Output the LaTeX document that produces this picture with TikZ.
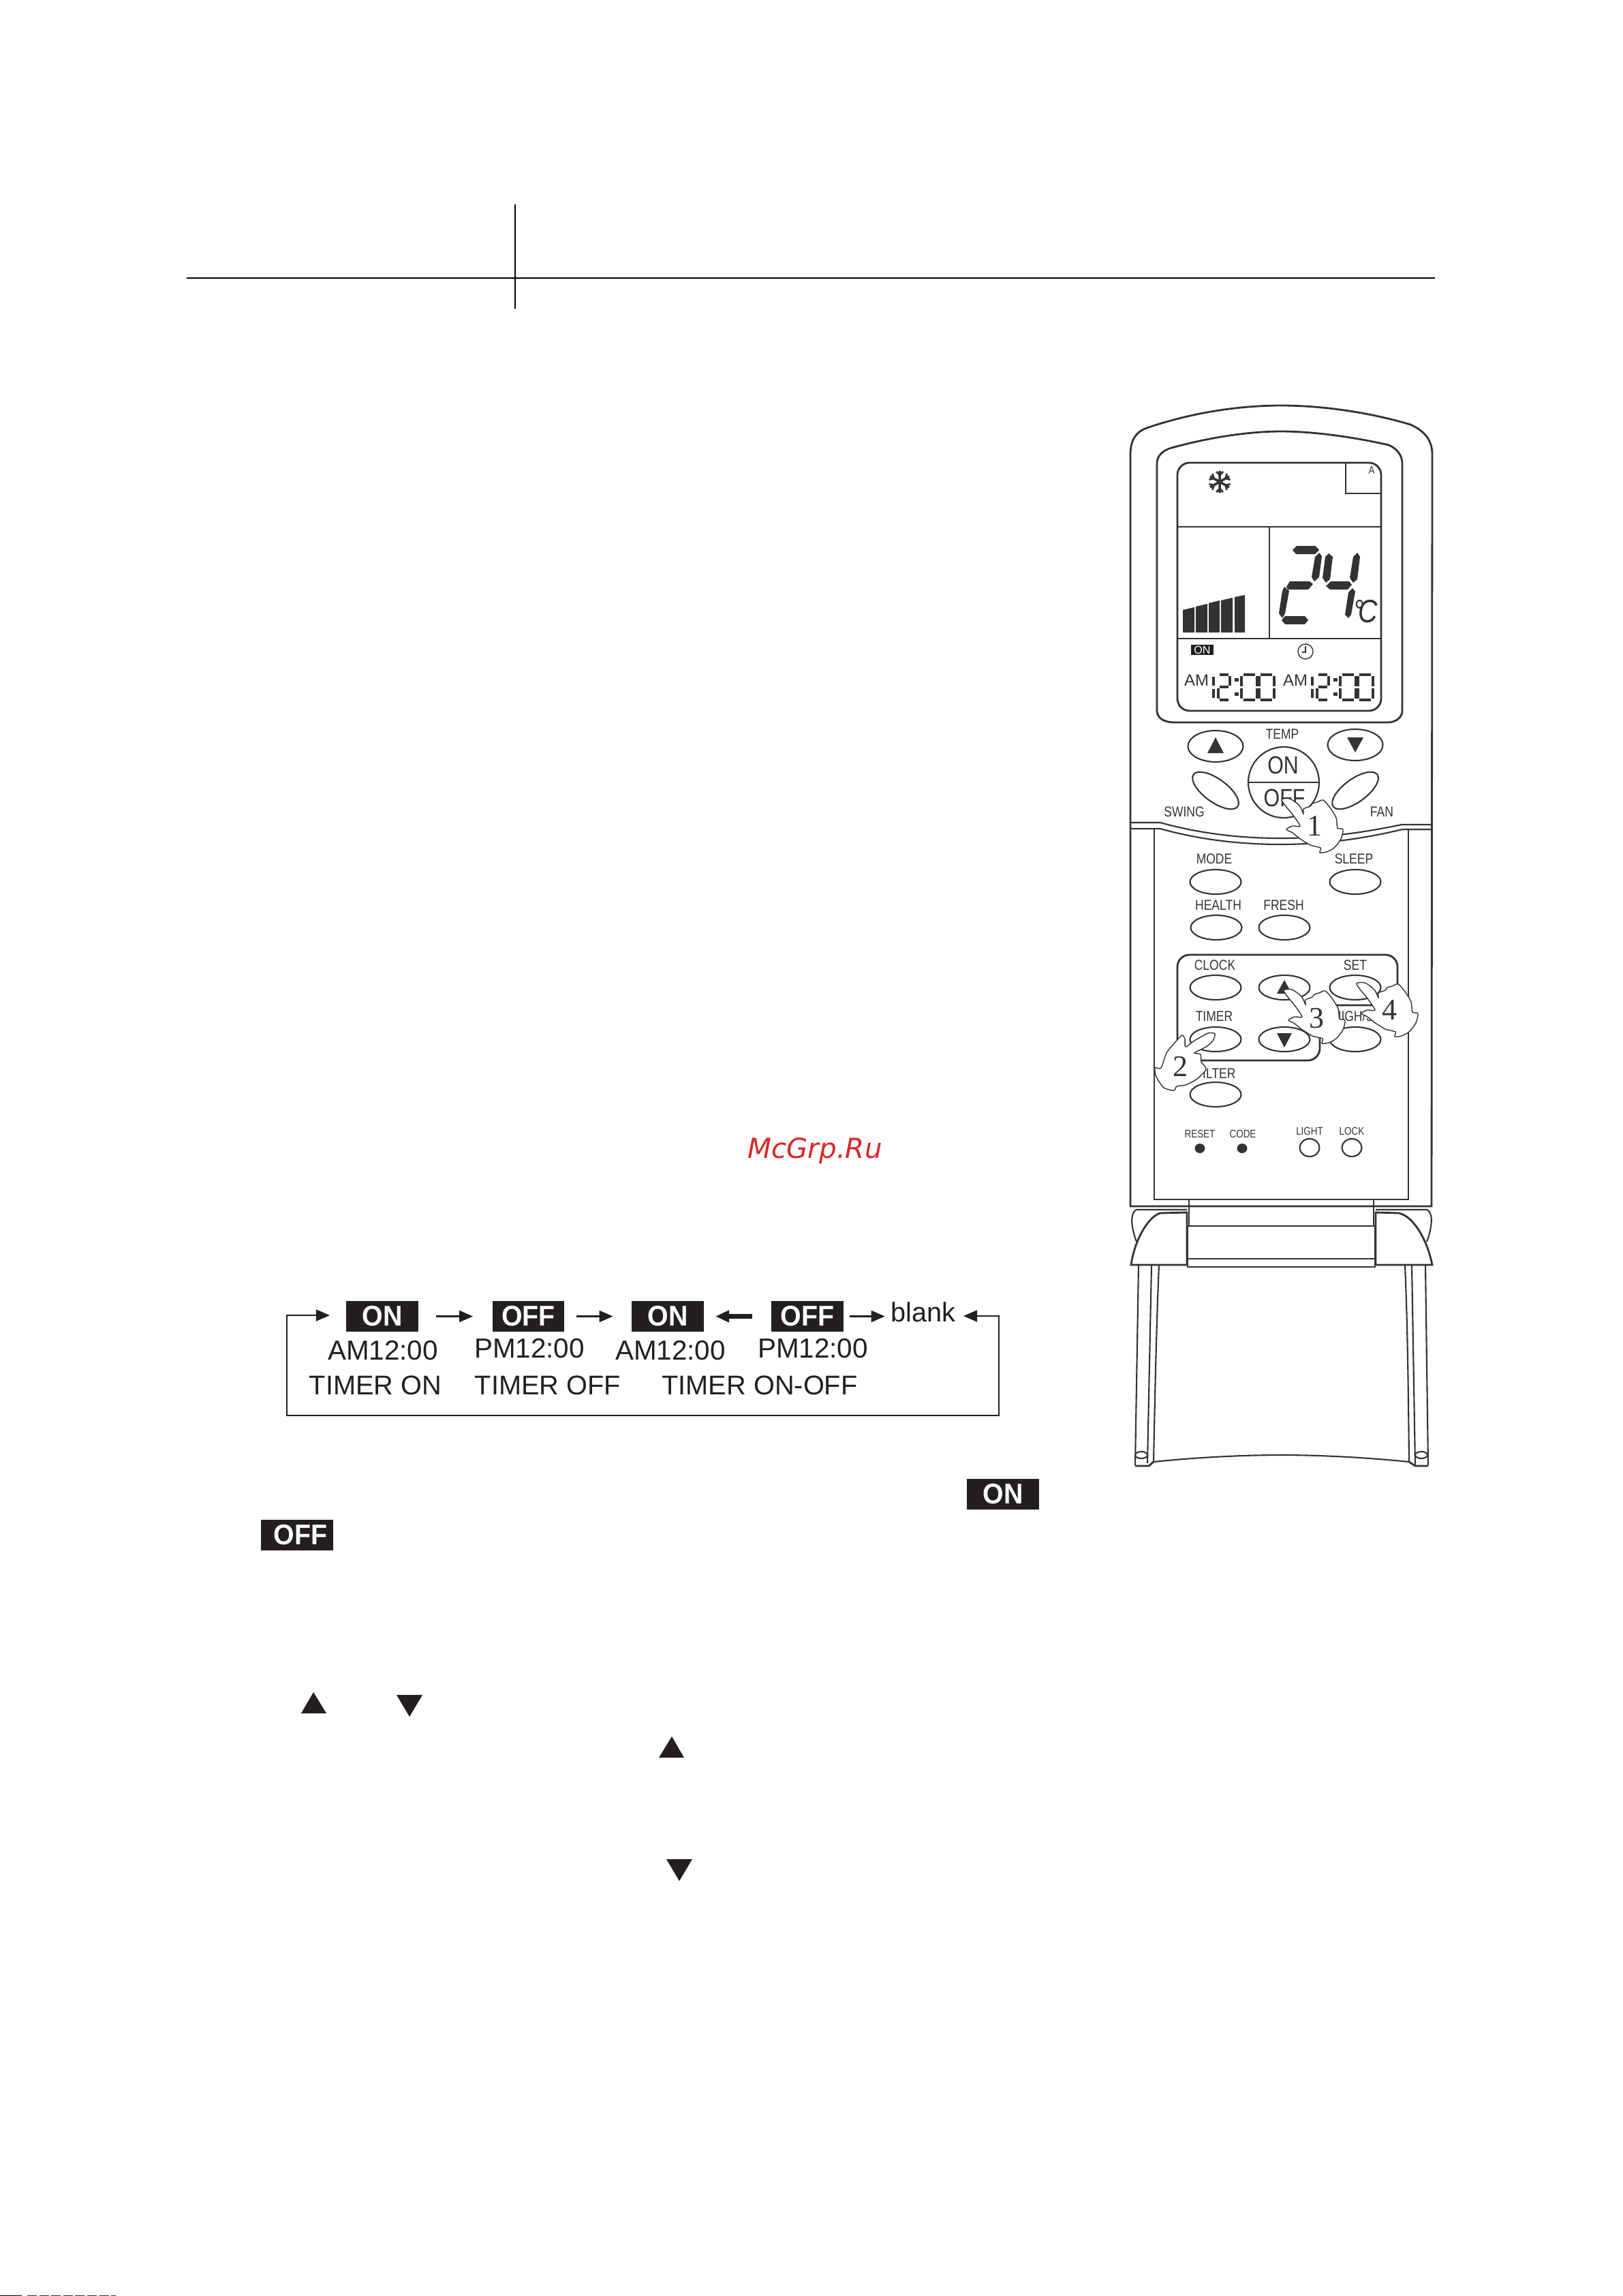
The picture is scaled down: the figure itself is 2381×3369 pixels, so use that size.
\documentclass[tikz,border=0pt]{standalone}
\usepackage{fontspec}
\setmainfont{Liberation Sans}
\newfontfamily\condfont[FakeStretch=0.83]{Liberation Sans}
\newfontfamily\boxfont[FakeStretch=0.94]{Liberation Sans}
\newfontfamily\handfont{Liberation Serif}
\newfontfamily\markfont{DejaVu Sans}
\usetikzlibrary{arrows.meta}
\definecolor{remotegray}{HTML}{333333}
\definecolor{boxblack}{HTML}{231F20}
\definecolor{markred}{HTML}{DC2727}
\tikzset{
    remote/.style={draw=remotegray, line width=0.6pt},
    panel/.style={draw=remotegray, line width=0.8pt},
    keybutton/.style={x radius=37.5, y radius=18},
    solidmark/.style={fill=boxblack},
    lcdmark/.style={fill=remotegray},
    clockseg/.style={draw=remotegray, line width=1.3pt},
    handshape/.style={draw=remotegray, fill=white, line width=0.4pt},
    keylabel/.style={text=remotegray, inner sep=0pt, font=\condfont\fontsize{6}{7}\selectfont},
    tinylabel/.style={text=remotegray, inner sep=0pt, font=\condfont\fontsize{4.6}{5}\selectfont},
    handnum/.style={text=remotegray, inner sep=0pt, font=\handfont\fontsize{12.5}{13}\selectfont},
    flowlabel/.style={text=boxblack, inner sep=0pt, font=\fontsize{11.3}{12}\selectfont},
    timelabel/.style={text=boxblack, inner sep=0pt, font=\fontsize{11.5}{12}\selectfont},
    flowbox/.style={fill=boxblack, text=white, inner sep=0pt, minimum width=29.9pt, minimum height=12.8pt, font=\boxfont\bfseries\fontsize{11.9}{12}\selectfont},
    flowarrow/.style={draw=boxblack, line width=0.6pt, -{Triangle[length=5.7pt,width=4.8pt]}},
}
\newcommand{\handoutline}{plot [smooth cycle, tension=0.45] coordinates {(1881,1173) (1893,1172) (1907,1182) (1913,1194) (1913,1187) (1923,1183) (1926,1179) (1933,1177) (1942,1174) (1952,1185) (1961,1200) (1963,1215) (1971,1217) (1968,1231) (1958,1244) (1947,1250) (1937,1251) (1938,1244) (1923,1240) (1907,1230) (1897,1222) (1888,1217) (1897,1212) (1908,1212) (1897,1195) (1887,1183)}}
\newcommand{\clockdigits}{
    \draw[clockseg] (1781,993) -- (1781,1006) (1781,1011) -- (1781,1024);
    \draw[clockseg] (1790,990) -- (1803,990) (1805,992) -- (1805,1006) (1790,1008) -- (1803,1008) (1788,1010) -- (1788,1025) (1790,1027) -- (1803,1027);
    \draw[clockseg, line width=1.5pt] (1815,995) -- (1815,1000) (1815,1016) -- (1815,1021);
    \draw[clockseg] (1822,992) -- (1822,1007) (1822,1010) -- (1822,1025) (1825,990) -- (1842,990) (1825,1027) -- (1842,1027) (1845,992) -- (1845,1007) (1845,1010) -- (1845,1025);
    \draw[clockseg] (1847.5,992) -- (1847.5,1007) (1847.5,1010) -- (1847.5,1025) (1850,990) -- (1867,990) (1850,1027) -- (1867,1027) (1870,992) -- (1870,1007) (1870,1010) -- (1870,1025);
}
\begin{document}
\begin{tikzpicture}[x=0.01cm, y=-0.01cm]
    \useasboundingbox (0,0) rectangle (2381,3369);

    % page head
    \draw[line width=0.6pt] (274,408) -- (2106,408);
    \draw[line width=0.6pt] (756,300) -- (756,453);
    \node[anchor=base, text=markred, font=\markfont\itshape\fontsize{11.5}{12}\selectfont] (mark) at (1196,1699) {McGrp.Ru};

    % legs of the cover
    \draw[remote] (1671,1856) -- (1666,2150);
    \draw[remote] (1690,1856) -- (1684,2147);
    \draw[remote] (1701,1856) .. controls (1697,1950) and (1695,2050) .. (1693,2145);
    \draw[remote] (2092,1856) -- (2096,2150);
    \draw[remote] (2072,1856) -- (2077,2150);
    \draw[remote] (2062,1856) .. controls (2066,1950) and (2067,2050) .. (2068,2145);
    \draw[remote] (1693,2145) .. controls (1750,2139) and (1820,2135) .. (1880,2135) .. controls (1940,2135) and (2010,2139) .. (2068,2145);
    \draw[panel] (1666,2151) -- (1686,2151) -- (1693,2145);
    \draw[panel] (2096,2151) -- (2077,2151) -- (2068,2145);
    \draw[remote] (1675,2135) circle [x radius=9, y radius=5];
    \draw[remote] (2086,2135) circle [x radius=9, y radius=5];

    % body
    \draw[panel] (1659,1770) -- (1659,667) .. controls (1659,645) and (1668,633) .. (1683,628) .. controls (1750,605) and (1820,595) .. (1880,595) .. controls (1940,595) and (2010,605) .. (2070,623) .. controls (2090,632) and (2102,645) .. (2102,667) -- (2101,1770) -- cycle;
    \draw[panel] (1723,1060) .. controls (1708,1060) and (1698,1053) .. (1698,1043) -- (1698,680) .. controls (1698,668) and (1708,660) .. (1720,657) .. controls (1770,643) and (1830,633) .. (1880,633) .. controls (1930,633) and (1990,642) .. (2038,653) .. controls (2050,658) and (2058,668) .. (2058,680) -- (2058,1043) .. controls (2058,1053) and (2048,1060) .. (2037,1060) -- cycle;

    % display
    \draw[panel, rounded corners=5.1pt] (1728,679) rectangle (2027,1043);
    \draw[remote] (1975,679) -- (1975,724) -- (2027,724);
    \draw[remote] (1729,773) -- (2026,773);
    \draw[remote] (1863,773) -- (1863,937);
    \draw[remote] (1729,937) -- (2026,937);
    \node[tinylabel] (autolabel) at (2013,690) {A};
    \draw[draw=remotegray, line width=1pt] (1790,691) -- (1790,723) (1776,699) -- (1804,715) (1776,715) -- (1804,699);
    \draw[remotegray, line width=0.8pt] (1785,692) -- (1790,697) -- (1795,692) (1785,722) -- (1790,717) -- (1795,722);
    \draw[remotegray, line width=0.8pt] (1805.5,703.8) -- (1798.7,702) -- (1800.5,695.2) (1774.5,703.8) -- (1781.3,702) -- (1779.5,695.2);
    \draw[remotegray, line width=0.8pt] (1805.5,710.2) -- (1798.7,712) -- (1800.5,718.8) (1774.5,710.2) -- (1781.3,712) -- (1779.5,718.8);

    % fan bars
    \fill[lcdmark] (1736,895) -- (1753,891) -- (1753,928) -- (1736,928) -- cycle;
    \fill[lcdmark] (1755,890) -- (1772,886) -- (1772,928) -- (1755,928) -- cycle;
    \fill[lcdmark] (1774,885) -- (1790,881) -- (1790,928) -- (1774,928) -- cycle;
    \fill[lcdmark] (1792,881) -- (1809,877) -- (1809,928) -- (1792,928) -- cycle;
    \fill[lcdmark] (1812,876) -- (1827,873) -- (1827,928) -- (1812,928) -- cycle;

    % big digits
    \fill[lcdmark] (1897,807) -- (1903,801) -- (1930,801) -- (1936,807) -- (1930,813) -- (1902,813) -- cycle;
    \fill[lcdmark] (1936,811) -- (1940,816) -- (1936,847) -- (1929,853) -- (1925,847) -- (1930,817) -- cycle;
    \fill[lcdmark] (1888,861) -- (1893,853) -- (1922,853) -- (1927,857) -- (1920,865) -- (1890,865) -- cycle;
    \fill[lcdmark] (1885,861) -- (1892,867) -- (1886,900) -- (1882,907) -- (1877,900) -- (1882,867) -- cycle;
    \fill[lcdmark] (1881,910) -- (1886,904) -- (1915,904) -- (1920,910) -- (1915,916) -- (1886,916) -- cycle;
    \fill[lcdmark] (1950,812) -- (1956,817) -- (1952,850) -- (1946,855) -- (1941,848) -- (1945,817) -- cycle;
    \fill[lcdmark] (1992,811) -- (1996,817) -- (1992,850) -- (1986,855) -- (1981,848) -- (1986,817) -- cycle;
    \fill[lcdmark] (1946,860) -- (1953,853) -- (1980,853) -- (1984,858) -- (1978,865) -- (1952,865) -- cycle;
    \fill[lcdmark] (1985,863) -- (1989,868) -- (1983,902) -- (1979,907) -- (1974,902) -- (1979,869) -- cycle;
    \node[text=remotegray, inner sep=0pt, font=\condfont\itshape\fontsize{13.5}{14}\selectfont] (degc) at (2004,897) {°\hspace{-2.6pt}C};

    % lower part of the display
    \node[fill=boxblack, text=white, inner sep=0pt, minimum width=9.4pt, minimum height=4.3pt, font=\fontsize{4.6}{5}\selectfont] (lcdon) at (1764.5,953.5) {ON};
    \draw[remotegray, line width=0.4pt] (1916,956) circle [radius=11];
    \draw[remotegray, line width=0.4pt] (1916,948) -- (1916,957) -- (1911,957);
    \node[text=remotegray, inner sep=0pt, font=\fontsize{6.8}{8}\selectfont] (amleft) at (1756,998) {AM};
    \node[text=remotegray, inner sep=0pt, font=\fontsize{6.8}{8}\selectfont] (amright) at (1901,998) {AM};
    \clockdigits
    \begin{scope}[shift={(145,0)}]
        \clockdigits
    \end{scope}

    % upper keys
    \node[keylabel] (temp) at (1882,1077) {TEMP};
    \draw[remote] (1784,1095) circle [x radius=40.5, y radius=23];
    \draw[remote] (1989,1093) circle [x radius=40.5, y radius=23];
    \fill[lcdmark] (1784,1082) -- (1772,1105) -- (1796,1105) -- cycle;
    \fill[lcdmark] (1977,1082) -- (2001,1082) -- (1989,1104) -- cycle;
    \draw[remote] (1884,1148) circle [radius=52];
    \draw[remote] (1832,1148) -- (1936,1148);
    \node[text=remotegray, inner sep=0pt, font=\condfont\fontsize{10.4}{11}\selectfont] (onkey) at (1883,1123) {ON};
    \node[text=remotegray, inner sep=0pt, font=\condfont\fontsize{10.4}{11}\selectfont] (offkey) at (1885,1171) {OFF};
    \draw[remote, rotate around={-36:(1784,1160)}] (1784,1160) circle [x radius=40, y radius=17];
    \draw[remote, rotate around={36:(1989,1160)}] (1989,1160) circle [x radius=40, y radius=17];
    \node[keylabel] (swing) at (1738,1191) {SWING};
    \node[keylabel] (fan) at (2028,1191) {FAN};

    % divider and lower panel
    \draw[remote] (1660,1207) -- (1703,1207) .. controls (1760,1223) and (1820,1230) .. (1880,1230) .. controls (1940,1230) and (2000,1222) .. (2057,1210) -- (2100,1210);
    \draw[remote] (1660,1216) -- (1703,1216) .. controls (1760,1232) and (1820,1239) .. (1880,1239) .. controls (1940,1239) and (2000,1231) .. (2058,1217) -- (2100,1217);
    \draw[panel] (1694,1216) -- (1694,1760) -- (2067,1760) -- (2067,1217);

    % keys of the lower panel
    \node[keylabel] (modekey) at (1782,1260) {MODE};
    \node[keylabel] (sleepkey) at (1987,1260) {SLEEP};
    \node[keylabel] (healthkey) at (1788,1328) {HEALTH};
    \node[keylabel] (freshkey) at (1884,1328) {FRESH};
    \draw[remote] (1784,1294) circle [keybutton];
    \draw[remote] (1989,1294) circle [keybutton];
    \draw[remote] (1785,1361) circle [keybutton];
    \draw[remote] (1885,1361) circle [keybutton];
    \draw[panel, rounded corners=5pt] (1937,1475) -- (1937,1556) -- (1728,1556) -- (1728,1401) -- (2051,1401) -- (2051,1475) -- cycle;
    \node[keylabel] (clockkey) at (1783,1416) {CLOCK};
    \node[keylabel] (setkey) at (1989,1416) {SET};
    \node[keylabel] (timerkey) at (1782,1491) {TIMER};
    \node[keylabel] (highkey) at (1986,1491) {HIGH/S};
    \node[keylabel] (filterkey) at (1784,1575) {FILTER};
    \draw[remote] (1784,1449) circle [keybutton];
    \draw[remote] (1885,1449) circle [keybutton];
    \draw[remote] (1989,1449) circle [keybutton];
    \draw[remote] (1784,1525) circle [keybutton];
    \draw[remote] (1885,1525) circle [keybutton];
    \draw[remote] (1989,1525) circle [keybutton];
    \draw[remote] (1784,1606) circle [keybutton];
    \fill[lcdmark] (1885,1438) -- (1874,1458) -- (1896,1458) -- cycle;
    \fill[lcdmark] (1874,1516) -- (1896,1516) -- (1885,1537) -- cycle;

    \node[tinylabel] (resetkey) at (1761,1664) {RESET};
    \node[tinylabel] (codekey) at (1824,1664) {CODE};
    \node[tinylabel] (lightkey) at (1922,1660) {LIGHT};
    \node[tinylabel] (lockkey) at (1984,1660) {LOCK};
    \fill[lcdmark] (1761,1685) circle [x radius=7.5, y radius=7];
    \fill[lcdmark] (1823,1685) circle [x radius=7.5, y radius=7];
    \draw[remote] (1922,1684) circle [x radius=14.5, y radius=13];
    \draw[remote] (1984,1684) circle [x radius=14.5, y radius=13];

    % cover
    \draw[panel] (1745,1760) -- (1745,1799);
    \draw[panel] (2016,1760) -- (2016,1799);
    \draw[remote] (1742,1775) -- (1668,1775) .. controls (1660,1778) and (1658,1795) .. (1668,1822);
    \draw[remote] (2019,1775) -- (2094,1775) .. controls (2102,1778) and (2104,1795) .. (2094,1822);
    \draw[panel, fill=white] (1660,1856) .. controls (1665,1820) and (1685,1785) .. (1703,1780) -- (1742,1779) -- (1742,1856) -- cycle;
    \draw[panel, fill=white] (2102,1856) .. controls (2095,1820) and (2075,1785) .. (2053,1780) -- (2019,1779) -- (2019,1856) -- cycle;
    \draw[panel] (1743,1799) rectangle (2018,1859);
    \draw[panel] (1743,1847) -- (2018,1847);

    % pressing hands
    \draw[handshape] \handoutline;
    \draw[handshape, shift={(3,280)}] \handoutline;
    \draw[handshape, shift={(110,270)}] \handoutline;
    \draw[handshape] plot [smooth cycle, tension=0.45] coordinates {(1783,1517) (1773,1516) (1753,1527) (1740,1536) (1739,1525) (1735,1519) (1725,1529) (1712,1545) (1704,1567) (1695,1567) (1697,1580) (1708,1596) (1723,1600) (1727,1594) (1740,1592) (1757,1583) (1770,1569) (1763,1558) (1762,1547) (1753,1545) (1770,1536) (1780,1527)};
    \node[handnum] (hand1) at (1929,1212) {1};
    \node[handnum] (hand2) at (1732,1565) {2};
    \node[handnum] (hand3) at (1932,1494) {3};
    \node[handnum] (hand4) at (2039,1482) {4};

    % timer sequence
    \node[flowbox] (on1) at (561,1931.5) {ON\hspace{3pt}};
    \node[flowbox] (off1) at (775.5,1931.5) {OFF};
    \node[flowbox] (on2) at (980,1931.5) {ON\hspace{2.5pt}};
    \node[flowbox] (off2) at (1185,1931.5) {OFF};
    \node[flowlabel] (blank) at (1355,1925) {blank};
    \node[timelabel] (amfirst) at (562,1982) {AM12:00};
    \node[timelabel] (pmfirst) at (777,1979) {PM12:00};
    \node[timelabel] (amsecond) at (984,1982) {AM12:00};
    \node[timelabel] (pmsecond) at (1193,1979) {PM12:00};
    \node[flowlabel] (timeron) at (551,2033) {TIMER ON};
    \node[flowlabel] (timeroff) at (804,2033) {TIMER OFF};
    \node[flowlabel] (timeronoff) at (1115,2033) {TIMER ON-OFF};
    \coordinate (loopin) at (484,1930);
    \coordinate (loopout) at (1414,1931);
    \draw[flowarrow, shorten <=7.4pt, shorten >=8pt] (on1.east) -- (off1.west);
    \draw[flowarrow, shorten <=5pt, shorten >=7.7pt] (off1.east) -- (on2.west);
    \draw[flowarrow, line width=2pt, shorten <=8pt, shorten >=4.8pt] (off2.west) -- (on2.east);
    \draw[flowarrow, shorten <=2.5pt, shorten >=2.3pt] (off2.east) -- (off2.east -| blank.west);
    \draw[flowarrow, {Triangle[length=5.7pt,width=4.8pt]}-{Triangle[length=5.7pt,width=4.8pt]}] (loopout) -- (1466,1931) -- (1466,2077) -- (421,2077) -- (421,1930) -- (loopin);

    % marks of the text below
    \node[flowbox] (onmark) at (1472,2192) {ON\hspace{3pt}};
    \node[flowbox] (offmark) at (436,2252) {\hspace{3pt}OFF};
    \fill[solidmark] (460,2483) -- (442,2514) -- (479,2514) -- cycle;
    \fill[solidmark] (582,2487) -- (620,2487) -- (601,2519) -- cycle;
    \fill[solidmark] (986,2548) -- (967,2579) -- (1004,2579) -- cycle;
    \fill[solidmark] (978,2728) -- (1016,2728) -- (997,2760) -- cycle;

    % scan edge
    \draw[line width=0.3pt] (0,3368) -- (32,3368);
    \draw[remotegray, line width=0.3pt, dash pattern=on 4pt off 1pt] (40,3368) -- (170,3368);
\end{tikzpicture}
\end{document}
